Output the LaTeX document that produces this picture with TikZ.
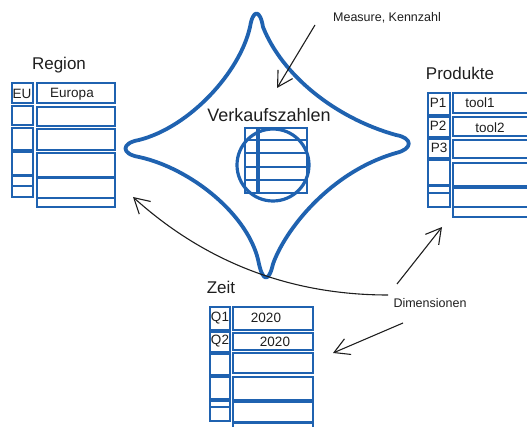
\documentclass[tikz,border=0pt]{standalone}
\usepackage{fontspec}
\setmainfont{Liberation Sans}
\usetikzlibrary{arrows.meta}
\definecolor{skblue}{HTML}{1F62B0}
\definecolor{ink}{HTML}{1E1E1E}
\tikzset{
  starline/.style={draw=skblue, line width=3.8pt, line join=round, line cap=round},
  cell/.style={draw=skblue, line width=2.2pt},
  minicell/.style={draw=skblue, line width=1.6pt},
  title/.style={text=ink, font=\fontsize{17}{19}\selectfont, inner sep=0pt},
  bigtitle/.style={text=ink, font=\fontsize{18}{20}\selectfont, inner sep=0pt},
  small/.style={text=ink, font=\fontsize{12.5}{14}\selectfont, inner sep=0pt},
  celltext/.style={text=ink, font=\fontsize{13.5}{15}\selectfont, inner sep=0pt},
  arr/.style={draw=ink, line width=1.1pt, -{Straight Barb[length=15pt,width=17pt]}}
}
\begin{document}
\begin{tikzpicture}[x=1pt,y=-1pt]
\useasboundingbox (0,0) rectangle (527,427);

% star
\draw[starline] (139,140) .. controls (190,127) and (240,72) .. (250,27)
  .. controls (253,9) and (260,9) .. (263,27)
  .. controls (282,75) and (335,118) .. (396,135)
  .. controls (413,138) and (413,149) .. (396,153)
  .. controls (330,172) and (285,230) .. (273,264)
  .. controls (269,282) and (263,282) .. (259,264)
  .. controls (250,215) and (190,168) .. (139,157)
  .. controls (121,154) and (121,143) .. (139,140) -- cycle;

% central mini table
\foreach \a/\b in {128/140,140/153,153/167,167/180,180/193}{
  \draw[minicell] (245,\a) rectangle (257,\b);
  \draw[minicell] (259,\a) rectangle (307,\b);
}
\draw[draw=skblue, line width=3.2pt] (273,165) circle (36);
\node[bigtitle] (vk) at (269,115) {Verkaufszahlen};

% Region table
\node[title] (region) at (59,65) {Region};
\foreach \a/\b in {83/103,106/125,128/150,152/175,176/186,186/197}{
  \draw[cell] (12,\a) rectangle (33,\b);}
\foreach \a/\b in {83/103,107/126,129/150,153/177,178/198,198/207}{
  \draw[cell] (37,\a) rectangle (115,\b);}
\node[celltext] (eu) at (22,94) {EU};
\node[celltext] (europa) at (72,94) {Europa};

% Produkte table
\node[title] (produkte) at (460,73) {Produkte};
\foreach \a/\b in {93/115,117/137,139/158,160/185,186/193,193/207}{
  \draw[cell] (428,\a) rectangle (450,\b);}
\foreach \a/\b in {93/113,117/136,140/158,163/186,188/207,207/217}{
  \draw[cell] (453,\a) rectangle (532,\b);}
\node[celltext] (p1) at (438,103) {P1};
\node[celltext] (p2) at (438,126) {P2};
\node[celltext] (p3) at (439,148) {P3};
\node[celltext] (tool1) at (480,103) {tool1};
\node[celltext] (tool2) at (490,128) {tool2};

% Zeit table
\node[title] (zeit) at (221,287) {Zeit};
\foreach \a/\b in {307/330,332/352,354/375,377/399,401/407,407/421}{
  \draw[cell] (210,\a) rectangle (230,\b);}
\foreach \a/\b in {307/330,333/350,353/373,377/400,402/422,423/432}{
  \draw[cell] (233,\a) rectangle (313,\b);}
\node[celltext] (q1) at (220,318) {Q1};
\node[celltext] (q2) at (220,341) {Q2};
\node[celltext] (y1) at (266,318) {2020};
\node[celltext] (y2) at (275,342) {2020};

% labels
\node[small] (measure) at (387,18) {Measure, Kennzahl};
\node[small] (dim) at (430,303) {Dimensionen};

% arrow end points
\coordinate (mstart) at (315,25);
\coordinate (mtip) at (277,88);
\coordinate (rstart) at (388,295);
\coordinate (rtip) at (133,197);
\coordinate (pstart) at (397,284);
\coordinate (ptip) at (442,227);
\coordinate (zstart) at (403,323);
\coordinate (ztip) at (333,353);

\draw[arr] (mstart) -- (mtip);
\draw[arr] (rstart) .. controls (290,295) and (205,262) .. (rtip);
\draw[arr] (pstart) -- (ptip);
\draw[arr] (zstart) -- (ztip);
\end{tikzpicture}
\end{document}
